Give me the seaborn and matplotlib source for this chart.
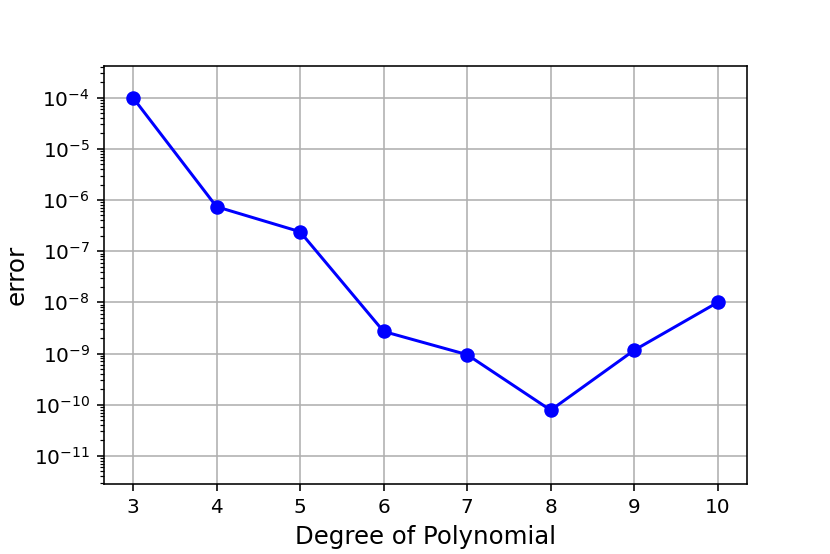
import matplotlib
matplotlib.use("Agg")
import matplotlib.pyplot as plt
import matplotlib.ticker as mticker
import seaborn as sns
import pandas as pd

degrees = [3, 4, 5, 6, 7, 8, 9, 10]
errors = [1.0e-4, 7.4e-7, 2.4e-7, 2.7e-9, 9.5e-10, 7.8e-11, 1.16e-9, 1.0e-8]

df = pd.DataFrame({"degree": degrees, "error": errors})

DPI = 144
fig = plt.figure(figsize=(830 / DPI, 554 / DPI), dpi=DPI)
ax = fig.add_axes([0.125, 0.1264, 0.775, 0.7545])

sns.lineplot(data=df, x="degree", y="error", ax=ax, color="blue",
             marker="o", markersize=6.5, markeredgecolor="blue",
             linewidth=1.5, estimator=None, zorder=3)

ax.set_yscale("log")
ax.set_ylim(10 ** -11.55, 10 ** -3.38)
ax.set_xlim(2.65, 10.35)
ax.set_xticks(degrees)
ax.yaxis.set_major_locator(mticker.LogLocator(base=10, numticks=20))
ax.yaxis.set_minor_locator(mticker.LogLocator(base=10, subs=range(2, 10), numticks=20))
ax.yaxis.set_minor_formatter(mticker.NullFormatter())
ax.grid(True, which="major", color="#b0b0b0", linewidth=0.8)
ax.set_axisbelow(True)
ax.tick_params(axis="both", which="major", labelsize=10)
ax.set_xlabel("Degree of Polynomial", fontsize=12.2)
ax.set_ylabel("error", fontsize=12.4, labelpad=2.5)

fig.savefig("out.png", dpi=DPI)
